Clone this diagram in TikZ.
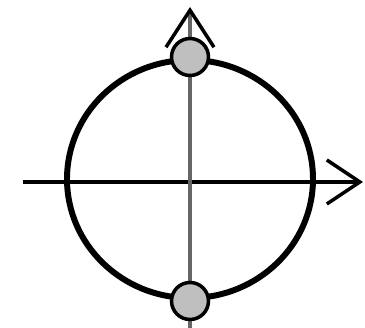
\documentclass[tikz,border=0pt]{standalone}
\usepackage{tikz}
\usetikzlibrary{arrows.meta,shapes.geometric}

\begin{document}
\begin{tikzpicture}[
    ring/.style={ellipse, draw=black, line width=3.4pt, minimum width=4.92cm, minimum height=4.76cm, inner sep=0pt},
    dot/.style={circle, draw=black, line width=2pt, fill=black!25, minimum size=0.74cm, inner sep=0pt},
    xaxis/.style={-{Straight Barb[length=0.66cm,width=0.88cm,line width=2pt]}, line width=2pt, black},
    yaxis/.style={-{Straight Barb[length=0.74cm,width=0.96cm,line width=2pt,color=black]}, line width=2pt, black!60}
]
\useasboundingbox (0,0) rectangle (7.3,6.56);
\node[ring] (Ring) at (3.8,2.98) {};
\coordinate (XLeft) at (0.46,2.92);
\coordinate (XRight) at (7.26,2.92);
\coordinate (YBottom) at (3.8,0);
\coordinate (YTop) at (3.8,6.42);
\draw[xaxis] (XLeft) -- (XRight);
\draw[yaxis] (YBottom) -- (YTop);
\node[dot] (Top) at (Ring.north) {};
\node[dot] (Bottom) at (Ring.south) {};
\end{tikzpicture}
\end{document}
